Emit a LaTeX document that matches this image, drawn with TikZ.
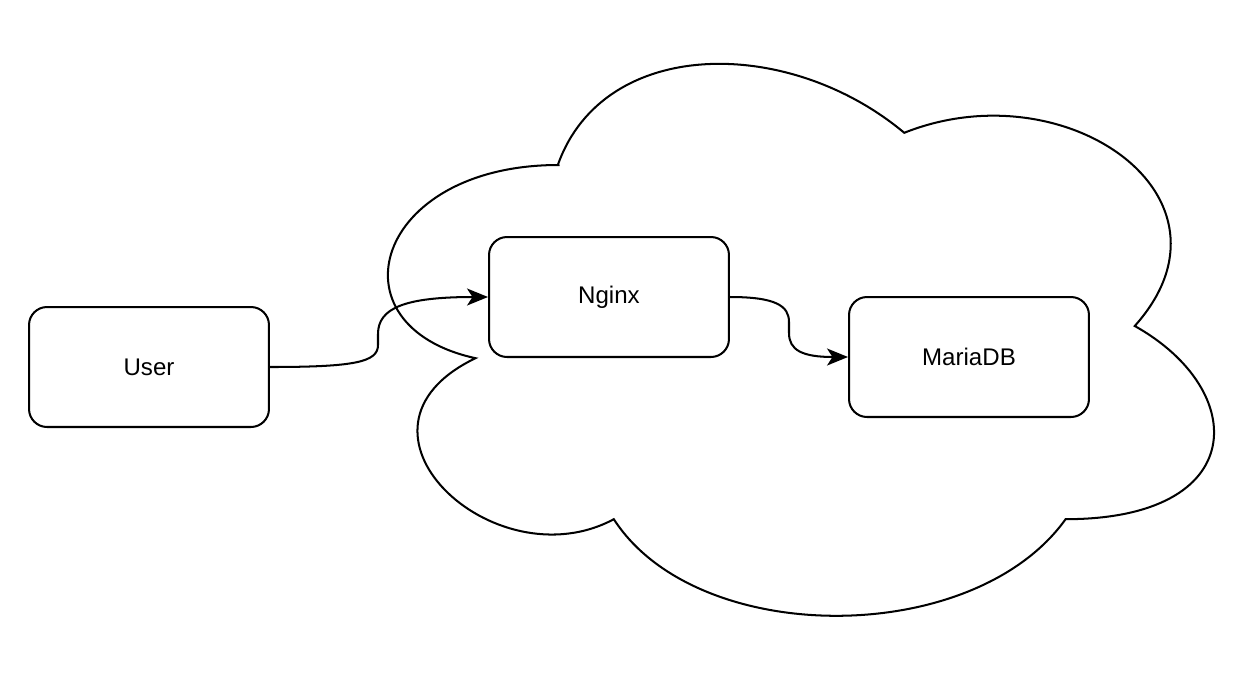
\documentclass[tikz,border=0pt]{standalone}
\usepackage{fontspec}
\setmainfont{Liberation Sans}
\usetikzlibrary{arrows.meta}
\tikzset{
  box/.style={draw, line width=1.15pt, rounded corners=0.36cm, minimum width=4.8cm,
    minimum height=2.4cm, font=\fontsize{13.7}{16}\selectfont},
  link/.style={line width=1.15pt, -{Stealth[length=0.42cm,width=0.34cm,inset=0.11cm]}}
}
\def\makecloud#1{
  \begin{scope}[#1]
    \draw[line width=1.15pt] (0.25, 0.25)
      .. controls (0.05, 0.25) and (0, 0.5) .. (0.16, 0.55)
      .. controls (0, 0.66) and (0.18, 0.9) .. (0.31, 0.8)
      .. controls (0.4, 1) and (0.7, 1) .. (0.8, 0.8)
      .. controls (1, 0.8) and (1, 0.6) .. (0.875, 0.5)
      .. controls (1, 0.3) and (0.8, 0.1) .. (0.625, 0.2)
      .. controls (0.5, 0.05) and (0.3, 0.05) .. cycle;
  \end{scope}
}

\begin{document}
\begin{tikzpicture}[x=0.02cm, y=-0.02cm]
  \useasboundingbox (0, 0) rectangle (1258, 684);
  \makecloud{shift={(328,4)}, xscale=922, yscale=644}
  \node[box] (user) at (149, 367) {User};
  \node[box] (nginx) at (609, 297) {Nginx};
  \node[box] (mariadb) at (969, 357) {MariaDB};
  \draw[link] (user.east) .. controls (355, 367) and (378, 362) .. (378, 345)
    -- (378, 334) .. controls (378, 308) and (405, 297) .. (nginx.west);
  \draw[link] (nginx.east) .. controls (776, 297) and (789, 306) .. (789, 322)
    -- (789, 333) .. controls (789, 350) and (802, 357) .. (mariadb.west);
\end{tikzpicture}
\end{document}
